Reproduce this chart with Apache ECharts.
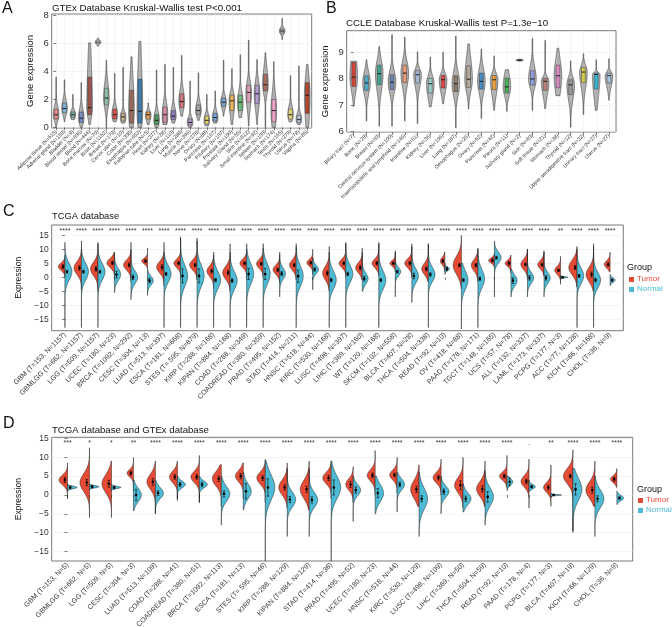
<!DOCTYPE html>
<html><head><meta charset="utf-8">
<script src="https://cdn.jsdelivr.net/npm/echarts@6/dist/echarts.min.js"></script>
<style>html,body{margin:0;padding:0;background:#fff}#c{width:672px;height:627px}</style>
</head><body><div id="c"></div><script>
const FONT = '"Liberation Sans", Arial, Helvetica, sans-serif';
const RED = '#E64B35', CYAN = '#4DBBD5';

// ---------- Panel A : GTEx ----------
const aCats = ['Adipose tissue (N=515)','Adrenal gland (N=159)','Bladder (N=9)','Blood vessel (N=606)','Blood (N=444)','Bone marrow (N=70)','Brain (N=1152)','Breast (N=179)','Cervix uteri (N=10)','Colon (N=308)','Esophagus (N=653)','Fallopian tube (N=5)','Heart (N=377)','Kidney (N=28)','Liver (N=110)','Lung (N=288)','Muscle (N=396)','Nerve (N=278)','Ovary (N=88)','Pancreas (N=167)','Pituitary (N=107)','Prostate (N=100)','Salivary Gland (N=55)','Skin (N=812)','Small intestine (N=92)','Spleen (N=100)','Stomach (N=174)','Testis (N=165)','Thyroid (N=279)','Uterus (N=78)','Vagina (N=85)'];
const aMin = [0,0.4,0.55,0,0.2,5.8,0,0.4,0.3,0,0,0.2,0,0.2,0.3,0.8,0,0.5,0.1,0.3,0.8,0.2,0.7,0.1,0.2,0,0,6.3,0.4,0.2,0];
const aQ1  = [0.6,1.05,0.7,0.35,0.9,6.0,1.6,0.6,0.45,0.3,0.3,0.6,0.2,0.35,0.55,1.4,0.15,0.9,0.25,0.45,1.5,1.2,1.2,1.8,1.7,2.6,0.4,6.75,0.6,0.35,1.0];
const aMed = [0.9,1.35,0.9,0.65,1.4,6.1,2.1,0.9,0.75,1.2,1.15,0.9,0.5,0.9,0.8,1.85,0.35,1.2,0.5,0.7,1.8,1.9,1.8,2.5,2.4,3.05,1.2,6.9,0.9,0.55,2.3];
const aQ3  = [1.3,1.75,1.1,1.1,3.6,6.2,2.8,1.3,1.0,2.65,3.45,1.1,0.9,1.45,1.2,2.4,0.6,1.6,0.8,1.0,2.1,2.3,2.3,3.0,3.0,3.8,2.0,7.05,1.3,0.85,3.2];
const aMax = [3.6,3.4,2.35,3.2,6.05,6.4,4.8,3.85,4.3,5.05,6.15,1.75,4.1,4.5,4.3,5.15,3.3,3.9,2.35,2.6,4.8,4.2,5.2,6.25,4.85,5.35,4.7,7.8,3.7,4.4,4.5];
const aTicks = [0,2,4,6,8];
const aPalette = ['#E88A8A','#7EB6D9','#7FB5A8','#7A8FC4','#A0564A','#FFFFFF','#8FBFA8','#D9534F','#C8B48A','#9C6B5A','#3E7CB1','#E8A050','#4E9A5A','#D98BA0','#8E7DBE','#D7757E','#B59FD0','#A8A8A8','#E6D96A','#6FA8DC','#7EA7D8','#F0B45A','#6DBE7A','#E0A0B8','#B69BD1','#A87060','#EFA3C8','#BBBBBB','#E8D77A','#B7C4E0','#B5472E'];

// ---------- Panel B : CCLE ----------
const bCats = ['Biliary tract (N=7)','Bone (N=29)','Breast (N=60)','Central nervous system (N=100)','Haematopoietic and lymphoid (N=146)','Intestine (N=61)','Kidney (N=36)','Liver (N=106)','Lung (N=187)','Oesophagus (N=26)','Ovary (N=52)','Pancreas (N=42)','Pleura (N=11)','Salivary gland (N=2)','Skin (N=60)','Soft tissue (N=21)','Stomach (N=38)','Thyroid (N=12)','Upper aerodigestive tract (N=32)','Urinary tract (N=27)','Uterus (N=27)'];
const bMin = [6.95,6.4,6.2,6.2,6.4,6.3,6.93,7.05,6.15,6.85,6.5,6.8,6.76,8.66,6.8,6.86,7.35,6.16,6.64,6.8,7.18];
const bQ1  = [7.7,7.55,7.76,7.58,7.85,7.83,7.45,7.64,7.5,7.66,7.6,7.58,7.45,8.68,7.75,7.55,7.65,7.39,7.85,7.6,7.83];
const bMed = [8.05,7.83,8.18,7.86,8.2,8.14,7.8,7.95,7.8,7.97,7.89,7.95,7.68,8.69,7.98,7.89,8.1,7.76,8.24,8.15,8.1];
const bQ3  = [8.6,8.1,8.5,8.14,8.5,8.29,8.0,8.11,8.1,8.48,8.2,8.11,8.01,8.7,8.29,8.0,8.5,7.95,8.41,8.2,8.2];
const bMax = [8.65,8.7,9.2,9.65,9.55,9.0,8.8,8.98,9.6,9.3,9.1,8.85,8.33,8.72,9.5,9.43,9.14,8.66,8.93,8.7,8.74];
const bTicks = [6,7,8,9];
const bPalette = ['#D1483A','#4FA9C4','#3FA78F','#6F87B5','#E59A7D','#A9B8D6','#9CCFC7','#DC4B4B','#8C7A6B','#B3A79A','#4A8CC4','#F0A040','#4BAF5B','#777777','#8E9FD9','#B88078','#D98BC4','#999999','#D6C94A','#36B4D1','#A9C4E0'];

// ---------- Panel C : TCGA ----------
const cCats = ['GBM (T=153, N=1157)','GBMLGG (T=662, N=1157)','LGG (T=509, N=1157)','UCEC (T=180, N=23)','BRCA (T=1092, N=292)','CESC (T=304, N=13)','LUAD (T=513, N=397)','ESCA (T=181, N=668)','STES (T= 595, N=879)','KIRP (T=288, N=168)','KIPAN (T=884, N=168)','COAD (T=288, N=349)','COADREAD (T=380, N=359)','PRAD (T=495, N=152)','STAD (T=414, N=211)','HNSC (T=518, N=44)','KIRC (T=530, N=168)','LUSC (T=498, N=397)','LIHC (T=369, N=160)','WT (T=120, N=168)','SKCM (T=102, N=558)','BLCA (T=407, N=28)','THCA (T=504, N=338)','READ (T=92, N=10)','OV (T=418, N=88)','PAAD (T=178, N=171)','TGCT (T=148, N=165)','UCS (T=57, N=78)','ALL (T=132, N=337)','LAML (T=173, N=337)','PCPG (T=177, N=3)','ACC (T=77, N=128)','KICH (T=66, N=168)','CHOL (T=36, N=9)'];
const cSig = ['****','****','****','****','****','****','****','****','****','****','****','****','****','****','****','****','****','****','****','****','****','****','****','****','****','****','****','****','****','****','**','****','****','****'];
// [mode, spread, low end, high end, relative width, error half-length]
const cTumor = [[3.8,1.3,0,8,0.8,0.7],[3.3,2.3,-4.5,10,0.9,0.8],[3.0,2.4,-5,12,0.9,0.8],[5.1,1.6,-0.5,8.8,0.9,0.6],[4.4,1.8,-1.5,10,0.9,0.7],[5.8,1.0,3,10.5,0.7,0.5],[3.6,2.0,-3,9,0.9,0.9],[5.0,1.5,0,14.5,0.8,0.6],[4.4,1.8,-1,13,0.9,0.6],[2.2,1.9,-4,8,0.8,0.7],[1.6,2.3,-5,9,0.9,0.8],[5.0,1.5,0,10,0.8,0.5],[4.8,1.6,0,10.5,0.8,0.5],[2.7,1.6,-2,8,0.8,0.6],[4.4,1.8,-1,11,0.8,0.6],[5.2,1.2,1,10,0.7,0.5],[1.5,2.4,-5,9,0.8,0.8],[5.0,1.5,0,12,0.8,0.5],[3.4,1.8,-1,9,0.8,0.8],[5.0,1.6,0.5,12.5,0.8,0.6],[5.0,1.0,2,9.5,0.65,0.4],[5.0,1.6,0,11,0.85,0.6],[3.0,2.0,-1.5,12,0.8,0.7],[5.8,1.3,2,9,0.55,0.6],[4.3,3.2,-4,15,1.0,0.6],[4.3,2.0,-1.5,10.5,0.8,0.6],[6.0,0.9,3.5,8.5,0.7,0.5],[5.0,1.1,1.5,8,0.7,0.6],[4.6,1.8,0,10,0.8,0.5],[4.5,1.5,0.5,9.5,0.75,0.5],[2.5,1.4,-2.5,7.5,0.7,0.4],[3.5,2.6,-3.5,11,1.0,0.7],[1.0,2.6,-5,12,0.9,0.9],[4.6,1.3,2,9,0.7,0.6]];
const cNormal = [[2.0,3.0,-18,12.5,0.85,0.5],[2.0,3.0,-18,13,0.85,0.5],[2.0,3.0,-18,12.5,0.85,0.5],[1.0,2.2,-5.5,9,0.75,1.2],[0.0,2.3,-8,12.5,0.8,0.8],[-1.2,1.6,-6.5,3,0.7,0.8],[1.2,3.0,-18,12.5,0.85,0.5],[0.5,3.8,-18,14,0.85,2.5],[0.5,3.8,-18,14,0.85,2.5],[-1.0,3.2,-18,9,0.85,0.6],[-1.2,3.2,-18,12,0.85,0.6],[1.2,3.6,-18,12,0.85,2.0],[1.2,3.6,-18,12,0.85,2.0],[1.3,2.0,-7,9,0.7,0.7],[0.4,3.6,-18,12,0.85,2.2],[2.8,1.5,-4.5,7,0.7,0.6],[-1.0,3.2,-18,11,0.85,0.6],[1.2,3.2,-18,12.5,0.85,0.6],[-0.5,2.0,-5,10.5,0.7,0.8],[-1.0,3.3,-18,12,0.85,0.5],[2.0,1.5,-7,9,0.65,0.5],[0.5,2.6,-9,12,0.8,1.0],[1.0,2.6,-18,12,0.8,0.6],[3.0,0.7,1,5,0.55,0.6],[-1.0,3.3,-18.5,5,0.8,0.5],[-0.5,3.3,-18,10,0.8,0.6],[7.0,2.0,-7,13,0.8,0.5],[-1.2,2.0,-7,3,0.75,1.0],[-0.2,2.0,-7,10,0.75,0.8],[-0.2,2.0,-7,9,0.75,0.8],[0.0,0.25,-0.5,0.5,0.9,0.2],[0.5,2.8,-18,10,0.8,0.5],[-1.0,2.8,-18,11,0.85,0.6],[-1.0,0.8,-3,1,0.6,0.4]];
const cdTicks = [-15,-10,-5,0,5,10,15];

// ---------- Panel D : TCGA + GTEx ----------
const dCats = ['GBM (T=153, N=5)','GBMLGG (T=662, N=5)','LGG (T=509, N=5)','CESC (T=304, N=3)','LUAD (T=513, N=109)','COAD (T=288, N=41)','COADREAD (T=380, N=51)','BRCA (T=1092, N=113)','ESCA (T=181, N=13)','STES (T= 595, N=46)','KIRP (T=288, N=129)','KIPAN (T=884, N=129)','STAD (T=414, N=36)','PRAD (T=495, N=52)','UCEC (T=180, N=23)','HNSC (T=518, N=44)','KIRC (T=530, N=129)','LUSC (T=498, N=109)','LIHC (T=369, N=50)','THCA (T=504, N=59)','READ (T=92, N=10)','PAAD (T=178, N=4)','PCPG (T=177, N=3)','BLCA (T=407, N=19)','KICH (T=66, N=129)','CHOL (T=36, N=9)'];
const dSig = ['***','*','*','**','****','****','****','****','****','****','****','****','****','****','****','****','****','****','****','****','****','.','**','****','****','****'];
const dTumor = [[4.0,1.3,-1,8.5,0.8,0.7],[3.3,2.4,-6,12.5,0.9,0.8],[3.0,2.4,-6,9,0.9,0.9],[5.8,1.0,1,10,0.6,0.5],[3.5,2.0,-5,9,0.8,0.9],[4.8,1.5,-1,9,0.75,0.6],[4.8,1.5,-2,10.5,0.8,0.6],[4.3,1.9,-3,8,0.85,0.7],[5.0,1.5,-1,8.5,0.75,0.7],[4.5,1.6,-2,9.5,0.8,0.6],[2.0,2.0,-3.5,8.5,0.8,0.7],[1.5,2.4,-4,9,0.85,0.8],[4.5,1.5,-1,9,0.8,0.7],[2.8,1.5,-2,7.5,0.7,0.8],[5.2,1.5,0,11.8,0.75,0.6],[5.3,1.3,0.5,10,0.7,0.5],[1.5,2.4,-3,8,0.8,0.8],[4.6,1.4,0,9.5,0.75,0.6],[2.6,2.0,-3.5,10,0.8,1.2],[1.6,2.0,-3,9,0.8,0.8],[5.0,1.1,2,10.5,0.7,0.5],[3.6,1.5,-3.5,9.5,0.75,0.6],[2.0,1.3,-3,8,0.7,0.6],[5.0,2.0,-9.5,12,0.9,0.5],[1.3,2.2,-3,9,0.85,0.8],[4.2,0.9,2,7,0.6,0.5]];
const dNormal = [[2.0,0.35,1.2,2.8,0.9,0.3],[2.2,0.3,1.4,2.8,0.9,0.3],[2.0,0.3,1.2,2.8,0.9,0.3],[0.0,1.8,-4.2,4,0.75,1.5],[0.5,1.5,-5,4,0.75,0.6],[2.8,0.9,-1.5,5,0.75,0.5],[2.8,0.9,-2,5,0.75,0.6],[0.3,2.0,-8,5,0.8,0.8],[1.0,2.0,-4,6,0.75,2.0],[2.0,3.4,-17.5,9,0.9,2.3],[-1.2,2.0,-11,7,0.8,0.8],[-1.3,2.0,-11,7,0.8,0.8],[2.0,3.0,-17.5,9,0.9,2.0],[1.3,1.5,-7,5,0.7,0.8],[0.5,2.3,-5,5,0.8,1.2],[2.8,1.5,-4.5,6,0.7,0.6],[-1.0,2.8,-11,6,0.8,0.8],[0.9,1.5,-5,5,0.75,0.7],[-1.0,1.6,-4.5,3,0.75,0.7],[-0.5,2.4,-8,6.5,0.8,1.4],[3.5,0.9,1.2,5,0.55,1.0],[2.2,0.6,1,4,0.6,0.3],[0.0,0.15,-0.4,0.4,1.0,0.1],[1.5,3.0,-10,7,0.85,1.5],[-1.0,2.4,-11,5,0.85,0.8],[-0.8,0.7,-2.5,1,0.65,0.3]];

// ---------- rendering helpers ----------
function boxViolin(mn, q1, md, q3, mx, palette, frac, boxFrac) {
  return function (params, api) {
    const i = api.value(0);
    const band = api.size([1, 0])[0];
    const cx = api.coord([i, md[i]])[0];
    const hw = band * frac;
    const sl = Math.max((md[i] - q1[i]) / 0.674, 0.03), sh = Math.max((q3[i] - md[i]) / 0.674, 0.03);
    const N = 120, L = [], R = [];
    for (let k = 0; k <= N; k++) {
      const y = mn[i] + (mx[i] - mn[i]) * k / N;
      const s = y < md[i] ? sl : sh;
      const w = Math.max(hw * Math.exp(-0.5 * Math.pow((y - md[i]) / s, 2)), 0.3);
      const py = api.coord([i, y])[1];
      L.push([cx - w, py]); R.unshift([cx + w, py]);
    }
    const bw = band * boxFrac;
    const y1 = api.coord([i, q1[i]])[1], y3 = api.coord([i, q3[i]])[1], ym = api.coord([i, md[i]])[1];
    return { type: 'group', children: [
      { type: 'polygon', shape: { points: L.concat(R) }, style: { fill: 'rgba(90,90,90,0.45)', stroke: '#222', lineWidth: 0.5 } },
      { type: 'rect', shape: { x: cx - bw, y: y3, width: 2 * bw, height: Math.max(y1 - y3, 0.8) }, style: { fill: palette[i], stroke: '#222', lineWidth: 0.4 } },
      { type: 'line', shape: { x1: cx - bw, y1: ym, x2: cx + bw, y2: ym }, style: { stroke: '#111', lineWidth: 0.9 } }
    ]};
  };
}

function splitViolin(tum, nor, sig, sigY, frac) {
  return function (params, api) {
    const i = api.value(0);
    const band = api.size([1, 0])[0];
    const cx = api.coord([i, 0])[0];
    const hw = band * frac;
    const children = [];
    const halves = [[tum[i], -1, RED], [nor[i], 1, CYAN]];
    halves.forEach(function (h) {
      const p = h[0], dir = h[1];
      const mu = p[0], sd = p[1], lo = p[2], hi = p[3], w = p[4];
      const pts = [[cx, api.coord([i, lo])[1]]];
      const N = 140;
      for (let k = 0; k <= N; k++) {
        const y = lo + (hi - lo) * k / N;
        const ww = hw * w * Math.exp(-0.5 * Math.pow((y - mu) / sd, 2));
        pts.push([cx + dir * ww, api.coord([i, y])[1]]);
      }
      pts.push([cx, api.coord([i, hi])[1]]);
      children.push({ type: 'polygon', shape: { points: pts }, style: { fill: h[2], stroke: '#1a1a1a', lineWidth: 0.5 } });
    });
    halves.forEach(function (h) {
      const p = h[0], dir = h[1];
      const ex = cx + dir * band * 0.12;
      const yt = api.coord([i, p[0] + p[5]])[1], yb = api.coord([i, p[0] - p[5]])[1], ym = api.coord([i, p[0]])[1];
      children.push({ type: 'line', shape: { x1: ex, y1: yt, x2: ex, y2: yb }, style: { stroke: '#000', lineWidth: 0.6 } });
      children.push({ type: 'line', shape: { x1: ex - 1.2, y1: yt, x2: ex + 1.2, y2: yt }, style: { stroke: '#000', lineWidth: 0.6 } });
      children.push({ type: 'line', shape: { x1: ex - 1.2, y1: yb, x2: ex + 1.2, y2: yb }, style: { stroke: '#000', lineWidth: 0.6 } });
      children.push({ type: 'circle', shape: { cx: ex, cy: ym, r: 1.3 }, style: { fill: '#000' } });
    });
    const sp = api.coord([i, sigY]);
    children.push({ type: 'text', x: sp[0], y: sp[1], style: { text: sig[i], fill: '#333', fontSize: 7, fontFamily: FONT, align: 'center', verticalAlign: 'middle' } });
    return { type: 'group', children: children };
  };
}

const minusFmt = v => (v < 0 ? '\u2212' + Math.abs(v) : String(v));

function xAxisCfg(gi, cats, ex, fs, vgrid) {
  const vals = cats.map((_, i) => i);
  return { type: 'value', gridIndex: gi, min: -ex, max: cats.length - 1 + ex,
    axisLine: { show: false },
    splitLine: { show: vgrid, lineStyle: { color: '#ececec', width: 0.6 } },
    axisTick: { show: true, customValues: vals, length: 3, lineStyle: { color: '#333', width: 0.6 } },
    axisLabel: { customValues: vals, formatter: v => cats[Math.round(v)], rotate: 45, fontSize: fs, color: '#333', margin: 3, fontFamily: FONT }
  };
}
function yAxisCfg(gi, min, max, ticks, name, gap, fs, nfs) {
  return { type: 'value', gridIndex: gi, min: min, max: max,
    axisLine: { show: false },
    axisTick: { show: true, customValues: ticks, length: 3, lineStyle: { color: '#333', width: 0.6 } },
    axisLabel: { customValues: ticks, formatter: minusFmt, fontSize: fs, color: '#333', margin: 3, fontFamily: FONT },
    splitLine: { show: true, lineStyle: { color: '#ececec', width: 0.6 } },
    name: name, nameLocation: 'middle', nameGap: gap, nameTextStyle: { fontSize: nfs, color: '#111', fontFamily: FONT }
  };
}

const gridBase = { show: true, borderColor: '#555', borderWidth: 0.8, backgroundColor: '#fff', containLabel: false, outerBoundsMode: 'none' };

const option = {
  animation: false,
  backgroundColor: '#fff',
  grid: [
    Object.assign({ left: 51.7, top: 14, width: 260, height: 114 }, gridBase),
    Object.assign({ left: 346.7, top: 30.7, width: 269.3, height: 101.3 }, gridBase),
    Object.assign({ left: 51.7, top: 225, width: 571.6, height: 105.7 }, gridBase),
    Object.assign({ left: 51.7, top: 437.3, width: 581, height: 123.7 }, gridBase)
  ],
  xAxis: [
    xAxisCfg(0, aCats, 0.53, 5.2, true),
    xAxisCfg(1, bCats, 0.55, 5.2, true),
    xAxisCfg(2, cCats, 0.8, 7, false),
    xAxisCfg(3, dCats, 0.72, 7, false)
  ],
  yAxis: [
    yAxisCfg(0, -0.05, 8.12, aTicks, 'Gene expression', 16, 9.5, 9.5),
    yAxisCfg(1, 5.98, 9.8, bTicks, 'Gene expression', 16, 9.5, 9.5),
    yAxisCfg(2, -19.1, 18.7, cdTicks, 'Expression', 25, 8.5, 8.5),
    yAxisCfg(3, -17.5, 15.3, cdTicks, 'Expression', 25, 8.5, 8.5)
  ],
  series: [
    { type: 'custom', xAxisIndex: 0, yAxisIndex: 0, data: aCats.map((_, i) => [i, aMed[i]]), renderItem: boxViolin(aMin, aQ1, aMed, aQ3, aMax, aPalette, 0.34, 0.22) },
    { type: 'custom', xAxisIndex: 1, yAxisIndex: 1, data: bCats.map((_, i) => [i, bMed[i]]), renderItem: boxViolin(bMin, bQ1, bMed, bQ3, bMax, bPalette, 0.3, 0.15) },
    { type: 'custom', xAxisIndex: 2, yAxisIndex: 2, data: cCats.map((_, i) => [i, 0]), renderItem: splitViolin(cTumor, cNormal, cSig, 16.6, 0.5) },
    { type: 'custom', xAxisIndex: 3, yAxisIndex: 3, data: dCats.map((_, i) => [i, 0]), renderItem: splitViolin(dTumor, dNormal, dSig, 13.9, 0.48) }
  ],
  graphic: [
    { type: 'text', left: 2, top: 1, style: { text: 'A', fontSize: 16, fill: '#111', fontFamily: FONT } },
    { type: 'text', left: 52, top: 3, style: { text: 'GTEx Database Kruskal-Wallis test P<0.001', fontSize: 9.7, fill: '#111', fontFamily: FONT } },
    { type: 'text', left: 326, top: 1, style: { text: 'B', fontSize: 16, fill: '#111', fontFamily: FONT } },
    { type: 'text', left: 346, top: 18, style: { text: 'CCLE Database Kruskal-Wallis test P=1.3e\u221210', fontSize: 9.7, fill: '#111', fontFamily: FONT } },
    { type: 'text', left: 3, top: 204, style: { text: 'C', fontSize: 16, fill: '#111', fontFamily: FONT } },
    { type: 'text', left: 52, top: 212, style: { text: 'TCGA database', fontSize: 9.4, fill: '#111', fontFamily: FONT } },
    { type: 'text', left: 3, top: 416, style: { text: 'D', fontSize: 16, fill: '#111', fontFamily: FONT } },
    { type: 'text', left: 52, top: 425, style: { text: 'TCGA database and GTEx database', fontSize: 9.6, fill: '#111', fontFamily: FONT } },
    // legend C
    { type: 'text', left: 627, top: 263, style: { text: 'Group', fontSize: 9, fill: '#111', fontFamily: FONT } },
    { type: 'rect', shape: { x: 629, y: 277, width: 5, height: 5 }, style: { fill: RED } },
    { type: 'text', left: 637, top: 275, style: { text: 'Tumor', fontSize: 8, fill: RED, fontFamily: FONT } },
    { type: 'rect', shape: { x: 629, y: 287, width: 5, height: 5 }, style: { fill: CYAN } },
    { type: 'text', left: 637, top: 285, style: { text: 'Normal', fontSize: 8, fill: CYAN, fontFamily: FONT } },
    // legend D
    { type: 'text', left: 637, top: 485, style: { text: 'Group', fontSize: 9, fill: '#111', fontFamily: FONT } },
    { type: 'rect', shape: { x: 638, y: 498, width: 5, height: 5 }, style: { fill: RED } },
    { type: 'text', left: 646, top: 496, style: { text: 'Tumor', fontSize: 8, fill: RED, fontFamily: FONT } },
    { type: 'rect', shape: { x: 638, y: 508, width: 5, height: 5 }, style: { fill: CYAN } },
    { type: 'text', left: 646, top: 506, style: { text: 'Normal', fontSize: 8, fill: CYAN, fontFamily: FONT } }
  ]
};

const chart = echarts.init(document.getElementById('c'), null, { renderer: 'canvas', width: 672, height: 627 });
chart.setOption(option);
</script></body></html>
